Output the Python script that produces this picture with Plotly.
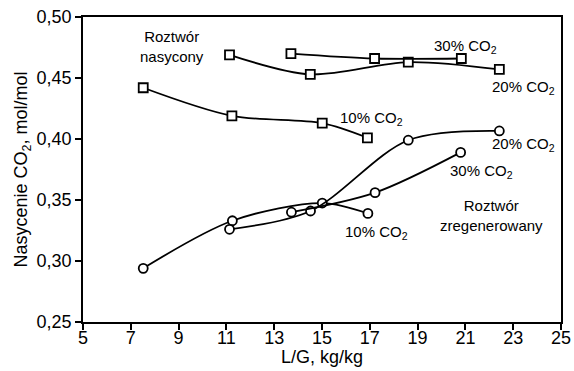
import plotly.graph_objects as go

# Saturated solution (squares)
sat10_x = [7.52, 11.23, 15.01, 16.90]
sat10_y = [0.442, 0.419, 0.413, 0.401]
sat20_x = [11.13, 14.51, 18.61, 22.42]
sat20_y = [0.469, 0.453, 0.463, 0.457]
sat30_x = [13.70, 17.20, 20.83]
sat30_y = [0.470, 0.466, 0.466]

# Regenerated solution (circles)
reg10_x = [7.52, 11.25, 15.01, 16.92]
reg10_y = [0.294, 0.333, 0.3475, 0.339]
reg20_x = [11.13, 14.52, 18.61, 22.42]
reg20_y = [0.326, 0.341, 0.399, 0.4066]
reg30_x = [13.72, 17.22, 20.80]
reg30_y = [0.340, 0.356, 0.389]

x_ticks = [5, 7, 9, 11, 13, 15, 17, 19, 21, 23, 25]
y_ticks = [0.25, 0.30, 0.35, 0.40, 0.45, 0.50]

FONT = "Liberation Sans, Arial, sans-serif"

fig = go.Figure()

def add(xs, ys, symbol):
    fig.add_trace(go.Scatter(
        x=xs, y=ys, mode="lines+markers",
        line=dict(color="black", width=1.8, shape="spline", smoothing=0.9),
        marker=dict(symbol=symbol, size=9, color="white",
                    line=dict(color="black", width=1.8)),
        showlegend=False, cliponaxis=False))

add(sat10_x, sat10_y, "square")
add(sat20_x, sat20_y, "square")
add(sat30_x, sat30_y, "square")
add(reg10_x, reg10_y, "circle")
add(reg20_x, reg20_y, "circle")
add(reg30_x, reg30_y, "circle")

labels = [
    ("Roztwór<br>nasycony", 8.72, 0.4762),
    ("30% CO<sub>2</sub>", 21.02, 0.476),
    ("20% CO<sub>2</sub>", 23.45, 0.4426),
    ("10% CO<sub>2</sub>", 17.09, 0.4172),
    ("20% CO<sub>2</sub>", 23.45, 0.3951),
    ("30% CO<sub>2</sub>", 21.69, 0.373),
    ("Roztwór<br>zregenerowany", 22.11, 0.3377),
    ("10% CO<sub>2</sub>", 17.26, 0.323),
]
for t, x, y in labels:
    fig.add_annotation(x=x, y=y, text=t, showarrow=False,
                       font=dict(family=FONT, size=15, color="black"),
                       align="center")

# x-axis title placed as paper annotation
fig.add_annotation(x=0.5, y=-0.115, xref="paper", yref="paper",
                   text="L/G, kg/kg", showarrow=False, yanchor="middle",
                   font=dict(family=FONT, size=18, color="black"))

axis_common = dict(showline=True, linecolor="black", linewidth=1.8, mirror=True,
                   ticks="outside", ticklen=6, tickwidth=1.5, tickcolor="black",
                   showgrid=False, zeroline=False, automargin=False,
                   tickfont=dict(family=FONT, size=18, color="black"))

fig.update_xaxes(range=[5, 25], tickvals=x_ticks, ticklabelstandoff=-8, **axis_common)
fig.update_yaxes(range=[0.25, 0.50], tickvals=y_ticks, tickformat=".2f",
                 title=dict(text="Nasycenie CO<sub>2</sub>, mol/mol", font=dict(family=FONT, size=18, color="black"), standoff=4),
                 **axis_common)

fig.update_layout(width=574, height=371, separators=", ",
                  margin=dict(l=83, r=13, t=17, b=49),
                  plot_bgcolor="white", paper_bgcolor="white")

fig.write_html("out.html")
